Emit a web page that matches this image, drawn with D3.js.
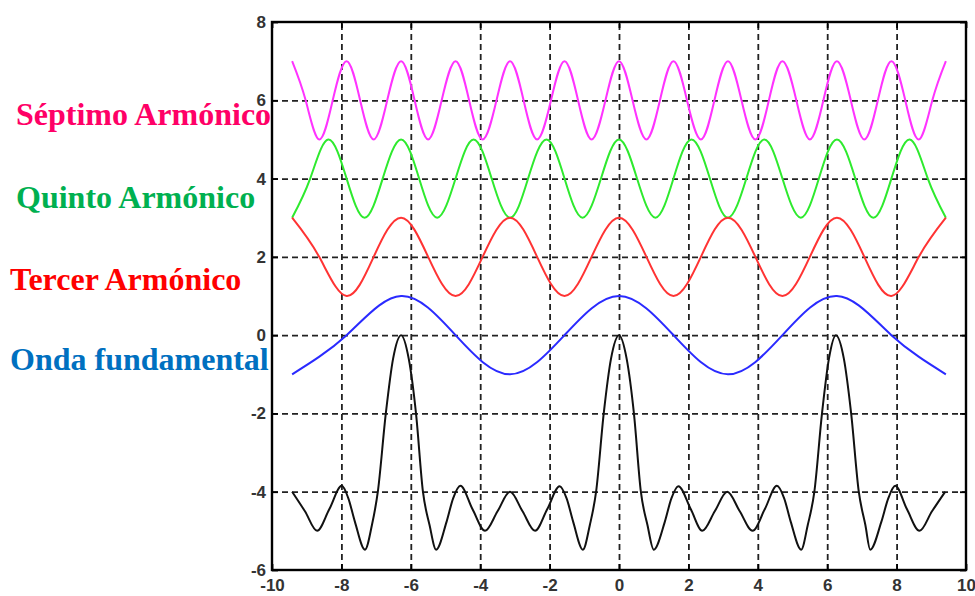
<html>
<head>
  <meta charset="utf-8">
  <title>Armonicos</title>
</head>
<script src='https://d3js.org/d3.v7.min.js'></script>
<style>
  body { margin: 0; background: #fff; }
  .lbl { font-family: "Liberation Serif", "Times New Roman", serif; font-weight: bold; font-size: 32px; }
  .tick text { font-family: "Liberation Sans", Arial, sans-serif; font-weight: bold; font-size: 17px; fill: #333; }
  .grid line { stroke: #222; stroke-width: 1.8; stroke-dasharray: 6,4; }
  .grid .domain { display: none; }
</style>
<body onload='init()'>
<svg width=975 height=596></svg>
<script>
// axis ticks
const xTicks = [-10,-8,-6,-4,-2,0,2,4,6,8,10];
const yTicks = [-6,-4,-2,0,2,4,6,8];

// onda fundamental (azul)
const blueX = [-9.42,-7.85,-6.28,-4.71,-3.14,-1.57,0,1.57,3.14,4.71,6.28,7.85,9.42];
const blueY = [-1,0,1,0,-1,0,1,0,-1,0,1,0,-1];

// tercer armonico (rojo)
const redX = [-9.42,-8.64,-7.85,-7.07,-6.28,-5.50,-4.71,-3.93,-3.14,-2.36,-1.57,-0.79,0,0.79,1.57,2.36,3.14,3.93,4.71,5.50,6.28,7.07,7.85,8.64,9.42];
const redY = [3,2,1,2,3,2,1,2,3,2,1,2,3,2,1,2,3,2,1,2,3,2,1,2,3];

// quinto armonico (verde)
const greenX = [-9.42,-8.90,-8.38,-7.85,-7.33,-6.81,-6.28,-5.76,-5.24,-4.71,-4.19,-3.67,-3.14,-2.62,-2.09,-1.57,-1.05,-0.52,0,0.52,1.05,1.57,2.09,2.62,3.14,3.67,4.19,4.71,5.24,5.76,6.28,6.81,7.33,7.85,8.38,8.90,9.42];
const greenY = [3,4,5,4,3,4,5,4,3,4,5,4,3,4,5,4,3,4,5,4,3,4,5,4,3,4,5,4,3,4,5,4,3,4,5,4,3];

// septimo armonico (magenta)
const magX = [-9.42,-9.03,-8.64,-8.25,-7.85,-7.46,-7.07,-6.68,-6.28,-5.89,-5.50,-5.11,-4.71,-4.32,-3.93,-3.53,-3.14,-2.75,-2.36,-1.96,-1.57,-1.18,-0.79,-0.39,0,0.39,0.79,1.18,1.57,1.96,2.36,2.75,3.14,3.53,3.93,4.32,4.71,5.11,5.50,5.89,6.28,6.68,7.07,7.46,7.85,8.25,8.64,9.03,9.42];
const magY = [7,6,5,6,7,6,5,6,7,6,5,6,7,6,5,6,7,6,5,6,7,6,5,6,7,6,5,6,7,6,5,6,7,6,5,6,7,6,5,6,7,6,5,6,7,6,5,6,7];

// suma (negro)
const sumX = [-9.42,-9.05,-8.70,-8.35,-7.99,-7.80,-7.61,-7.32,-7.12,-6.95,-6.72,-6.51,-6.28,-6.06,-5.85,-5.65,-5.46,-5.27,-4.97,-4.78,-4.57,-4.22,-3.86,-3.50,-3.14,-2.78,-2.42,-2.07,-1.71,-1.51,-1.32,-1.04,-0.84,-0.66,-0.44,-0.23,0,0.22,0.43,0.63,0.82,1.00,1.32,1.51,1.71,2.07,2.40,2.76,3.12,3.48,3.85,4.20,4.55,4.76,4.95,5.25,5.44,5.63,5.85,6.05,6.25,6.48,6.69,6.91,7.10,7.24,7.56,7.76,7.96,8.30,8.66,9.02,9.40];
const sumY = [-4.0,-4.5,-5.0,-4.45,-3.85,-4.17,-4.77,-5.48,-4.85,-4.0,-2.0,-0.6,0,-0.6,-2.0,-4.0,-4.85,-5.48,-4.77,-4.17,-3.85,-4.45,-5.0,-4.5,-4.0,-4.5,-5.0,-4.45,-3.86,-4.17,-4.77,-5.48,-4.85,-4.0,-2.0,-0.6,0,-0.6,-2.0,-4.0,-4.85,-5.48,-4.77,-4.17,-3.86,-4.45,-5.0,-4.5,-4.0,-4.5,-5.0,-4.45,-3.85,-4.17,-4.77,-5.48,-4.85,-4.0,-2.0,-0.6,0,-0.6,-2.0,-4.0,-4.85,-5.48,-4.77,-4.17,-3.85,-4.45,-5.0,-4.5,-4.0];

const labels = ["Séptimo Armónico","Quinto Armónico","Tercer Armónico","Onda fundamental"];
const labelColors = ["#ff0066","#00b050","#ff0000","#0070c0"];

function init() {
  const svg = d3.select("svg");
  const x = d3.scaleLinear().domain([-10,10]).range([272,966]);
  const y = d3.scaleLinear().domain([-6,8]).range([570,22]);
  const fmt = d => String(d);   // plain hyphen, as in the original

  // grid
  svg.append("g").attr("class","grid").attr("transform","translate(0,570)")
    .call(d3.axisBottom(x).tickValues(xTicks.slice(1,-1)).tickSize(-548).tickFormat(""));
  svg.append("g").attr("class","grid").attr("transform","translate(272,0)")
    .call(d3.axisLeft(y).tickValues(yTicks.slice(1,-1)).tickSize(-694).tickFormat(""));

  // inner ticks on all four sides
  const inner = [
    [d3.axisBottom(x).tickValues(xTicks), "translate(0,570)"],
    [d3.axisTop(x).tickValues(xTicks), "translate(0,22)"],
    [d3.axisLeft(y).tickValues(yTicks), "translate(272,0)"],
    [d3.axisRight(y).tickValues(yTicks), "translate(966,0)"]
  ];
  inner.forEach(function(a) {
    svg.append("g").attr("transform",a[1]).call(a[0].tickSize(-6).tickFormat(""))
      .call(g => g.select(".domain").remove())
      .selectAll("line").attr("stroke","#000").attr("stroke-width",1.8);
  });

  // tick labels
  svg.append("g").attr("transform","translate(0,570)")
    .call(d3.axisBottom(x).tickValues(xTicks).tickSize(0).tickPadding(9).tickFormat(fmt))
    .call(g => g.select(".domain").remove());
  svg.append("g").attr("transform","translate(272,0)")
    .call(d3.axisLeft(y).tickValues(yTicks).tickSize(0).tickPadding(6).tickFormat(fmt))
    .call(g => g.select(".domain").remove());

  // frame
  svg.append("rect").attr("x",272).attr("y",22).attr("width",694).attr("height",548)
    .attr("fill","none").attr("stroke","#000").attr("stroke-width",2.4);

  // curves
  function draw(xs, ys, color, curve) {
    const pts = xs.map((v,i) => [v, ys[i]]);
    svg.append("path").datum(pts)
      .attr("fill","none").attr("stroke",color).attr("stroke-width",2)
      .attr("d", d3.line().x(d => x(d[0])).y(d => y(d[1])).curve(curve));
  }
  draw(magX, magY, "#ff33ff", d3.curveNatural);
  draw(greenX, greenY, "#2eea2e", d3.curveNatural);
  draw(redX, redY, "#ff3333", d3.curveNatural);
  draw(blueX, blueY, "#2a2aff", d3.curveNatural);
  draw(sumX, sumY, "#111", d3.curveMonotoneX);

  // series names on the left
  const lx = [16,16,10,10];
  const ly = [125,208,290,370];
  svg.selectAll("text.lbl").data(labels).enter().append("text")
    .attr("class","lbl")
    .attr("x",(d,i) => lx[i]).attr("y",(d,i) => ly[i])
    .attr("fill",(d,i) => labelColors[i])
    .text(d => d);
}
</script>
</body>
</html>
